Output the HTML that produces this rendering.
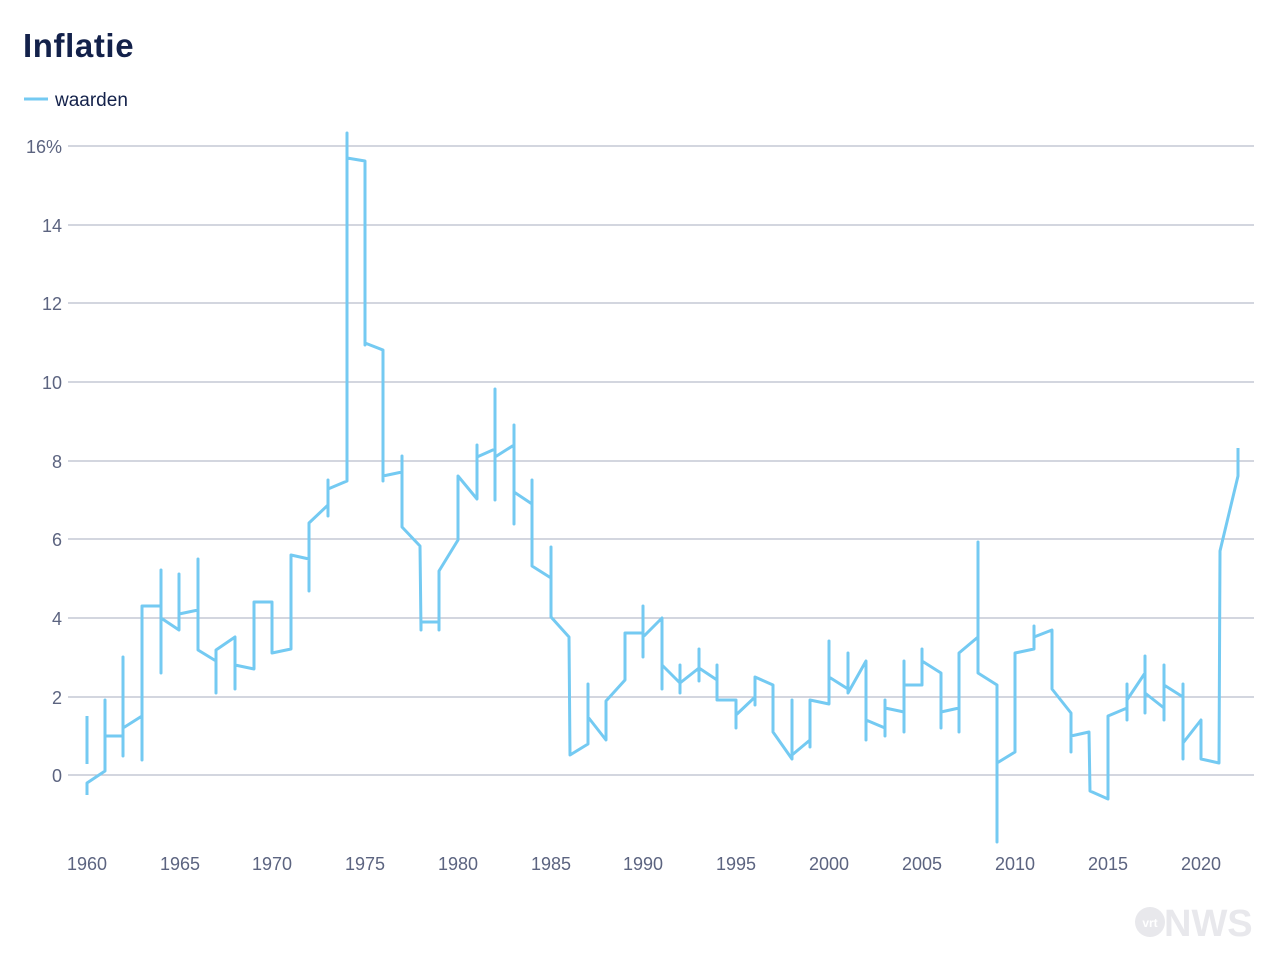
<!DOCTYPE html>
<html><head><meta charset="utf-8"><style>
body{margin:0;background:#fff;width:1280px;height:968px;overflow:hidden;font-family:"Liberation Sans",sans-serif}
</style></head><body>
<svg width="1280" height="968" xmlns="http://www.w3.org/2000/svg" font-family="Liberation Sans, sans-serif">
<text x="23" y="57" font-size="33" font-weight="bold" fill="#13214a" letter-spacing="0.6">Inflatie</text>
<line x1="24" y1="99" x2="48" y2="99" stroke="#74caf2" stroke-width="3"/>
<text x="55" y="106" font-size="19" fill="#13214a">waarden</text>
<g stroke="#b9bdcc" stroke-width="1.3">
<line x1="68" y1="146" x2="1254" y2="146"/><line x1="68" y1="225" x2="1254" y2="225"/>
<line x1="68" y1="303" x2="1254" y2="303"/><line x1="68" y1="382" x2="1254" y2="382"/>
<line x1="68" y1="461" x2="1254" y2="461"/><line x1="68" y1="539" x2="1254" y2="539"/>
<line x1="68" y1="618" x2="1254" y2="618"/><line x1="68" y1="697" x2="1254" y2="697"/>
<line x1="68" y1="775" x2="1254" y2="775"/>
</g>
<g font-size="18" fill="#5c6480" text-anchor="end">
<text x="62" y="153">16%</text><text x="62" y="232">14</text><text x="62" y="310">12</text>
<text x="62" y="389">10</text><text x="62" y="468">8</text><text x="62" y="546">6</text>
<text x="62" y="625">4</text><text x="62" y="704">2</text><text x="62" y="782">0</text>
</g>
<g font-size="18" fill="#5c6480" text-anchor="middle">
<text x="87" y="870">1960</text><text x="180" y="870">1965</text><text x="272" y="870">1970</text>
<text x="365" y="870">1975</text><text x="458" y="870">1980</text><text x="551" y="870">1985</text>
<text x="643" y="870">1990</text><text x="736" y="870">1995</text><text x="829" y="870">2000</text>
<text x="922" y="870">2005</text><text x="1015" y="870">2010</text><text x="1108" y="870">2015</text>
<text x="1201" y="870">2020</text>
</g>
<path fill="none" stroke="#74caf2" stroke-width="3" stroke-linejoin="round" d="M87,716 L87,764 M87,795 L87,783 L105,771 L105,700 L105,736 L123,736 L123,657 L123,756 L123,728 L142,716 L142,760 L142,606 L161,606 L161,570 L161,673 L161,618 L179,630 L179,574 L179,614 L198,610 L198,559 L198,650 L216,661 L216,693 L216,650 L235,637 L235,689 L235,665 L254,669 L254,602 L272,602 L272,653 L291,649 L291,555 L309,559 L309,591 L309,523 L328,505 L328,480 L328,516 L328,489 L347,481 L347,133 L347,158 L365,161 L365,345 L365,343 L383,350 L383,481 L383,476 L402,472 L402,456 L402,527 L420,546 L421,630 L421,622 L439,622 L439,630 L439,571 L458,540 L458,476 L477,499 L477,445 L477,457 L495,449 L495,389 L495,500 L495,457 L514,445 L514,425 L514,524 L514,492 L532,504 L532,480 L532,566 L551,578 L551,547 L551,617 L569,637 L570,755 L588,744 L588,684 L588,717 L606,740 L606,701 L625,680 L625,633 L643,633 L643,606 L643,657 L643,637 L662,618 L662,689 L662,665 L680,683 L680,665 L680,693 L680,683 L699,668 L699,649 L699,681 L699,668 L717,680 L717,665 L717,700 L736,700 L736,728 L736,715 L755,697 L755,705 L755,677 L773,685 L773,732 L792,759 L792,700 L792,755 L810,740 L810,720 L810,747 L810,700 L829,704 L829,641 L829,677 L848,689 L848,653 L848,693 L866,661 L866,740 L866,720 L885,728 L885,700 L885,736 L885,708 L904,712 L904,661 L904,732 L904,685 L922,685 L922,649 L922,661 L941,673 L941,728 L941,712 L959,708 L959,732 L959,653 L978,637 L978,542 L978,673 L997,685 L997,842 L997,763 L1015,752 L1015,653 L1034,649 L1034,626 L1034,637 L1052,630 L1052,689 L1071,713 L1071,752 L1071,736 L1089,732 L1090,791 L1108,799 L1108,716 L1127,708 L1127,720 L1127,684 L1127,700 L1145,673 L1145,656 L1145,713 L1145,693 L1164,708 L1164,665 L1164,720 L1164,685 L1183,697 L1183,684 L1183,759 L1183,743 L1201,720 L1201,759 L1219,763 L1220,551 L1238,476 L1238,448"/>
<circle cx="1150" cy="922" r="15" fill="#e8e8ec"/>
<text x="1150" y="927" font-size="12" font-weight="bold" fill="#fff" text-anchor="middle">vrt</text>
<text x="1164" y="936" font-size="38" font-weight="bold" fill="#e8e8ec">NWS</text>
</svg>
</body></html>
